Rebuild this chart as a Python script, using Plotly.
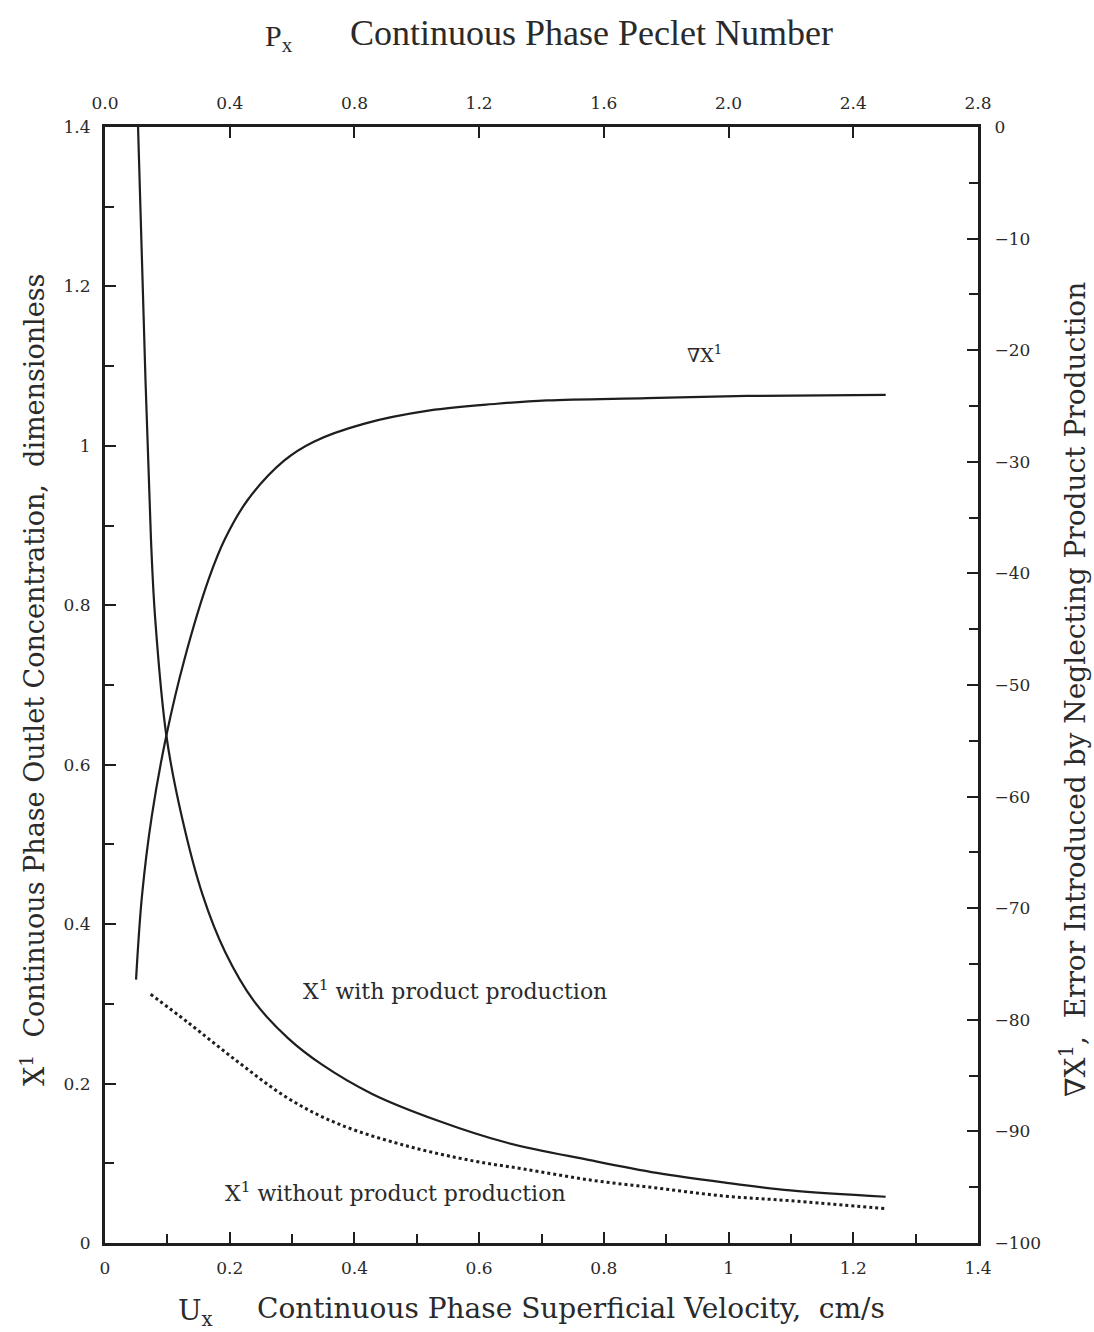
import plotly.graph_objects as go

# ---- data ----
ux_with = [0.053, 0.065, 0.0737, 0.0805, 0.0985, 0.1231, 0.1568, 0.1927, 0.2392, 0.2934,
           0.3475, 0.4284, 0.5354, 0.6434, 0.7775, 0.8848, 0.9921, 1.0992, 1.2519]
x1_with = [1.40, 1.081, 0.883, 0.783, 0.636, 0.535, 0.436, 0.365, 0.303, 0.257,
           0.224, 0.187, 0.153, 0.126, 0.104, 0.088, 0.076, 0.066, 0.058]

ux_without = [0.0732, 0.1325, 0.2136, 0.2946, 0.3754, 0.4829, 0.5903, 0.6707, 0.7779,
              0.8849, 0.9921, 1.0993, 1.2522]
x1_without = [0.312, 0.277, 0.227, 0.181, 0.149, 0.122, 0.103, 0.093, 0.079,
              0.069, 0.059, 0.053, 0.043]

ux_err = [0.0498, 0.0593, 0.0749, 0.0985, 0.1279, 0.1664, 0.1925, 0.2291, 0.2872, 0.3349,
          0.4148, 0.521, 0.6285, 0.7088, 0.8692, 1.0297, 1.252]
err = [-76.4, -68.9, -61.8, -54.5, -47.6, -40.5, -36.9, -33.4, -29.9, -28.2,
       -26.6, -25.4, -24.8, -24.5, -24.3, -24.1, -24.0]

bottom_ticks = [0, 0.2, 0.4, 0.6, 0.8, 1.0, 1.2, 1.4]
bottom_labels = ["0", "0.2", "0.4", "0.6", "0.8", "1", "1.2", "1.4"]
left_ticks = [0, 0.2, 0.4, 0.6, 0.8, 1.0, 1.2, 1.4]
left_labels = ["0", "0.2", "0.4", "0.6", "0.8", "1", "1.2", "1.4"]
top_ticks = [0.0, 0.4, 0.8, 1.2, 1.6, 2.0, 2.4, 2.8]
top_labels = ["0.0", "0.4", "0.8", "1.2", "1.6", "2.0", "2.4", "2.8"]
right_ticks = [0, -10, -20, -30, -40, -50, -60, -70, -80, -90, -100]
right_labels = ["0", "\u221210", "\u221220", "\u221230", "\u221240", "\u221250",
                "\u221260", "\u221270", "\u221280", "\u221290", "\u2212100"]

LINE = "#1e1e1e"
TXT = "#2a2a2a"
SERIF = "DejaVu Serif"

fig = go.Figure()
fig.add_trace(go.Scatter(x=ux_with, y=x1_with, mode="lines",
                         line=dict(color=LINE, width=2.2, shape="spline", smoothing=1.0),
                         xaxis="x", yaxis="y", showlegend=False))
fig.add_trace(go.Scatter(x=ux_without, y=x1_without, mode="lines",
                         line=dict(color=LINE, width=3, dash="dot", shape="spline", smoothing=1.0),
                         xaxis="x", yaxis="y", showlegend=False))
fig.add_trace(go.Scatter(x=ux_err, y=err, mode="lines",
                         line=dict(color=LINE, width=2.2, shape="spline", smoothing=1.0),
                         xaxis="x", yaxis="y2", showlegend=False))
# invisible trace to activate top axis
fig.add_trace(go.Scatter(x=[0, 2.8], y=[0, 0], mode="lines", line=dict(width=0), opacity=0,
                         xaxis="x2", yaxis="y", showlegend=False, hoverinfo="skip"))

L, R, T, B = 105, 116, 127, 89
W, H = 1094, 1332
pw, ph = W - L - R, H - T - B

def px(x):
    return (x - L) / pw

def py(y):
    return (H - B - y) / ph

tickfont = dict(family=SERIF, size=17, color=TXT)
common = dict(ticks="inside", ticklen=11, tickwidth=1.5, tickcolor=LINE, showline=True, linewidth=3,
              linecolor=LINE, showgrid=False, zeroline=False, tickfont=tickfont)
fig.update_layout(
    width=W, height=H, margin=dict(l=L, r=R, t=T, b=B),
    paper_bgcolor="white", plot_bgcolor="white",
    xaxis=dict(range=[0, 1.4], tickvals=bottom_ticks, ticktext=bottom_labels, ticklabelstandoff=8,
               minor=dict(tickvals=[0.1, 0.3, 0.5, 0.7, 0.9, 1.1, 1.3], ticks="inside", ticklen=9,
                          tickwidth=1.5, tickcolor=LINE, showgrid=False), **common),
    xaxis2=dict(range=[0, 2.8], overlaying="x", side="top", tickvals=top_ticks, ticktext=top_labels,
                ticklabelstandoff=8, **common),
    yaxis=dict(range=[0, 1.4], tickvals=left_ticks, ticktext=left_labels, ticklabelstandoff=8,
               minor=dict(tickvals=[0.1, 0.3, 0.5, 0.7, 0.9, 1.1, 1.3], ticks="inside", ticklen=9,
                          tickwidth=1.5, tickcolor=LINE, showgrid=False), **common),
    yaxis2=dict(range=[-100, 0], overlaying="y", side="right", tickvals=right_ticks, ticktext=right_labels,
                ticklabelstandoff=10,
                minor=dict(tickvals=[-5, -15, -25, -35, -45, -55, -65, -75, -85, -95], ticks="inside",
                           ticklen=9, tickwidth=1.5, tickcolor=LINE, showgrid=False), **common),
)

ann = []
def add(text, x, y, size, angle=0, xanchor="center", family=SERIF):
    ann.append(dict(text=text, x=px(x), y=py(y), xref="paper", yref="paper", showarrow=False,
                    font=dict(family=family, size=size, color=TXT), textangle=angle,
                    xanchor=xanchor, yanchor="middle"))

add("P<sub>x</sub>", 279, 38, 30, family="Liberation Serif")
add("Continuous Phase Peclet Number", 591, 33, 36, family="Liberation Serif")
add("U<sub>x</sub>", 195, 1312, 28)
add("Continuous Phase Superficial Velocity,  cm/s", 571, 1308, 28)
add("X<sup>1</sup>  Continuous Phase Outlet Concentration,  dimensionless", 32, 680, 27, angle=-90)
add("\u2207X<sup>1</sup>,  Error Introduced by Neglecting Product Production", 1073, 690, 28, angle=-90)
add("\u2207X<sup>1</sup>", 704, 354, 19)
add("X<sup>1</sup> with product production", 455, 990, 22)
add("X<sup>1</sup> without product production", 395, 1192, 22)
fig.update_layout(annotations=ann)

fig.write_html("out.html", config={"displayModeBar": False},
               post_script="document.body.style.margin='0';document.body.style.overflow='hidden';")
